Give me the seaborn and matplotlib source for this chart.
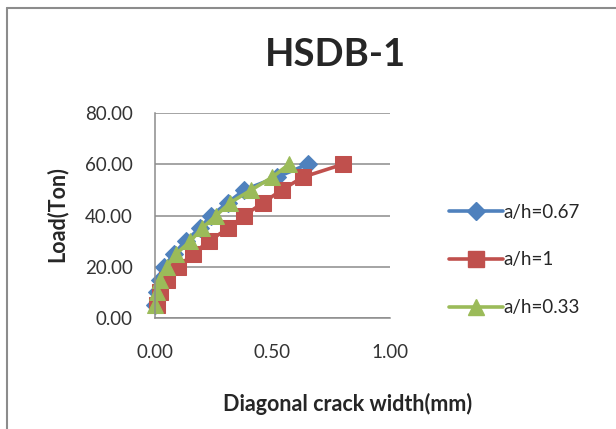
import matplotlib
matplotlib.use("Agg")
import matplotlib.pyplot as plt
import seaborn as sns
import pandas as pd
from matplotlib.lines import Line2D

sns.set_theme(style="white")
plt.rcParams["font.family"] = ["Lato", "DejaVu Sans"]

# Load steps (Ton) and diagonal crack widths (mm) per shear-span ratio
load = [5, 10, 15, 20, 25, 30, 35, 40, 45, 50, 55, 60]
crack_067 = [0.00, 0.01, 0.02, 0.04, 0.08, 0.13, 0.19, 0.24, 0.31, 0.38, 0.52, 0.65]
crack_100 = [0.01, 0.02, 0.05, 0.10, 0.16, 0.23, 0.31, 0.38, 0.46, 0.54, 0.63, 0.80]
crack_033 = [0.00, 0.01, 0.02, 0.05, 0.09, 0.15, 0.20, 0.26, 0.32, 0.41, 0.50, 0.57]

series_names = ["a/h=0.67", "a/h=1", "a/h=0.33"]
series_data = [crack_067, crack_100, crack_033]
colors = ["#4F81BD", "#C0504D", "#9BBB59"]
markers = ["D", "s", "^"]
msizes = [9, 11, 12]

fig = plt.figure(figsize=(6.16, 4.29), dpi=100)
ax = fig.add_axes([0.2516, 0.2587, 0.3815, 0.4779])

for name, xs, c, m, ms in zip(series_names, series_data, colors, markers, msizes):
    df = pd.DataFrame({"width": xs, "load": load})
    sns.lineplot(data=df, x="width", y="load", ax=ax, color=c, marker=m,
                 markersize=ms, markeredgecolor=c, linewidth=2.6,
                 sort=False, estimator=None, legend=False, clip_on=False)

ax.set_xlim(0, 1.0)
ax.set_ylim(0, 80)
ax.set_xticks([0, 0.5, 1.0])
ax.set_yticks([0, 20, 40, 60, 80])
ax.set_xticklabels(["0.00", "0.50", "1.00"])
ax.set_yticklabels(["0.00", "20.00", "40.00", "60.00", "80.00"])
ax.tick_params(axis="both", labelsize=13.5, colors="#333333", length=0)
ax.tick_params(axis="x", pad=19)
ax.tick_params(axis="y", pad=16)
ax.yaxis.grid(True, color="#8c8c8c", linewidth=1.1)
ax.xaxis.grid(False)
for side in ["top", "right"]:
    ax.spines[side].set_visible(False)
for side in ["left", "bottom"]:
    ax.spines[side].set_color("#8c8c8c")
    ax.spines[side].set_linewidth(1.1)
ax.set_axisbelow(True)

ax.set_xlabel("")
ax.set_ylabel("")
fig.text(0.565, 0.058, "Diagonal crack width(mm)", ha="center", va="center",
         fontsize=15.5, fontweight="bold")
fig.text(0.092, 0.50, "Load(Ton)", ha="center", va="center", rotation=90,
         fontsize=15.5, fontweight="bold")
fig.text(0.544, 0.871, "HSDB-1", ha="center", va="center", fontsize=27.5, fontweight="bold")

handles = [Line2D([0], [0], color=c, marker=m, markersize=ms, linewidth=2.6)
           for c, m, ms in zip(colors, markers, msizes)]
fig.legend(handles, series_names, loc="center left", bbox_to_anchor=(0.713, 0.394),
           frameon=False, fontsize=13.5, handlelength=2.9, handletextpad=0.0,
           labelspacing=1.65, borderpad=0)

# chart frame edges
fig.add_artist(Line2D([0.0115, 0.0115], [0, 0.981], color="#8c8c8c", linewidth=1.5,
                      transform=fig.transFigure))
fig.add_artist(Line2D([0.0115, 1.0], [0.981, 0.981], color="#8c8c8c", linewidth=1.5,
                      transform=fig.transFigure))

fig.savefig("out.png", dpi=100)
